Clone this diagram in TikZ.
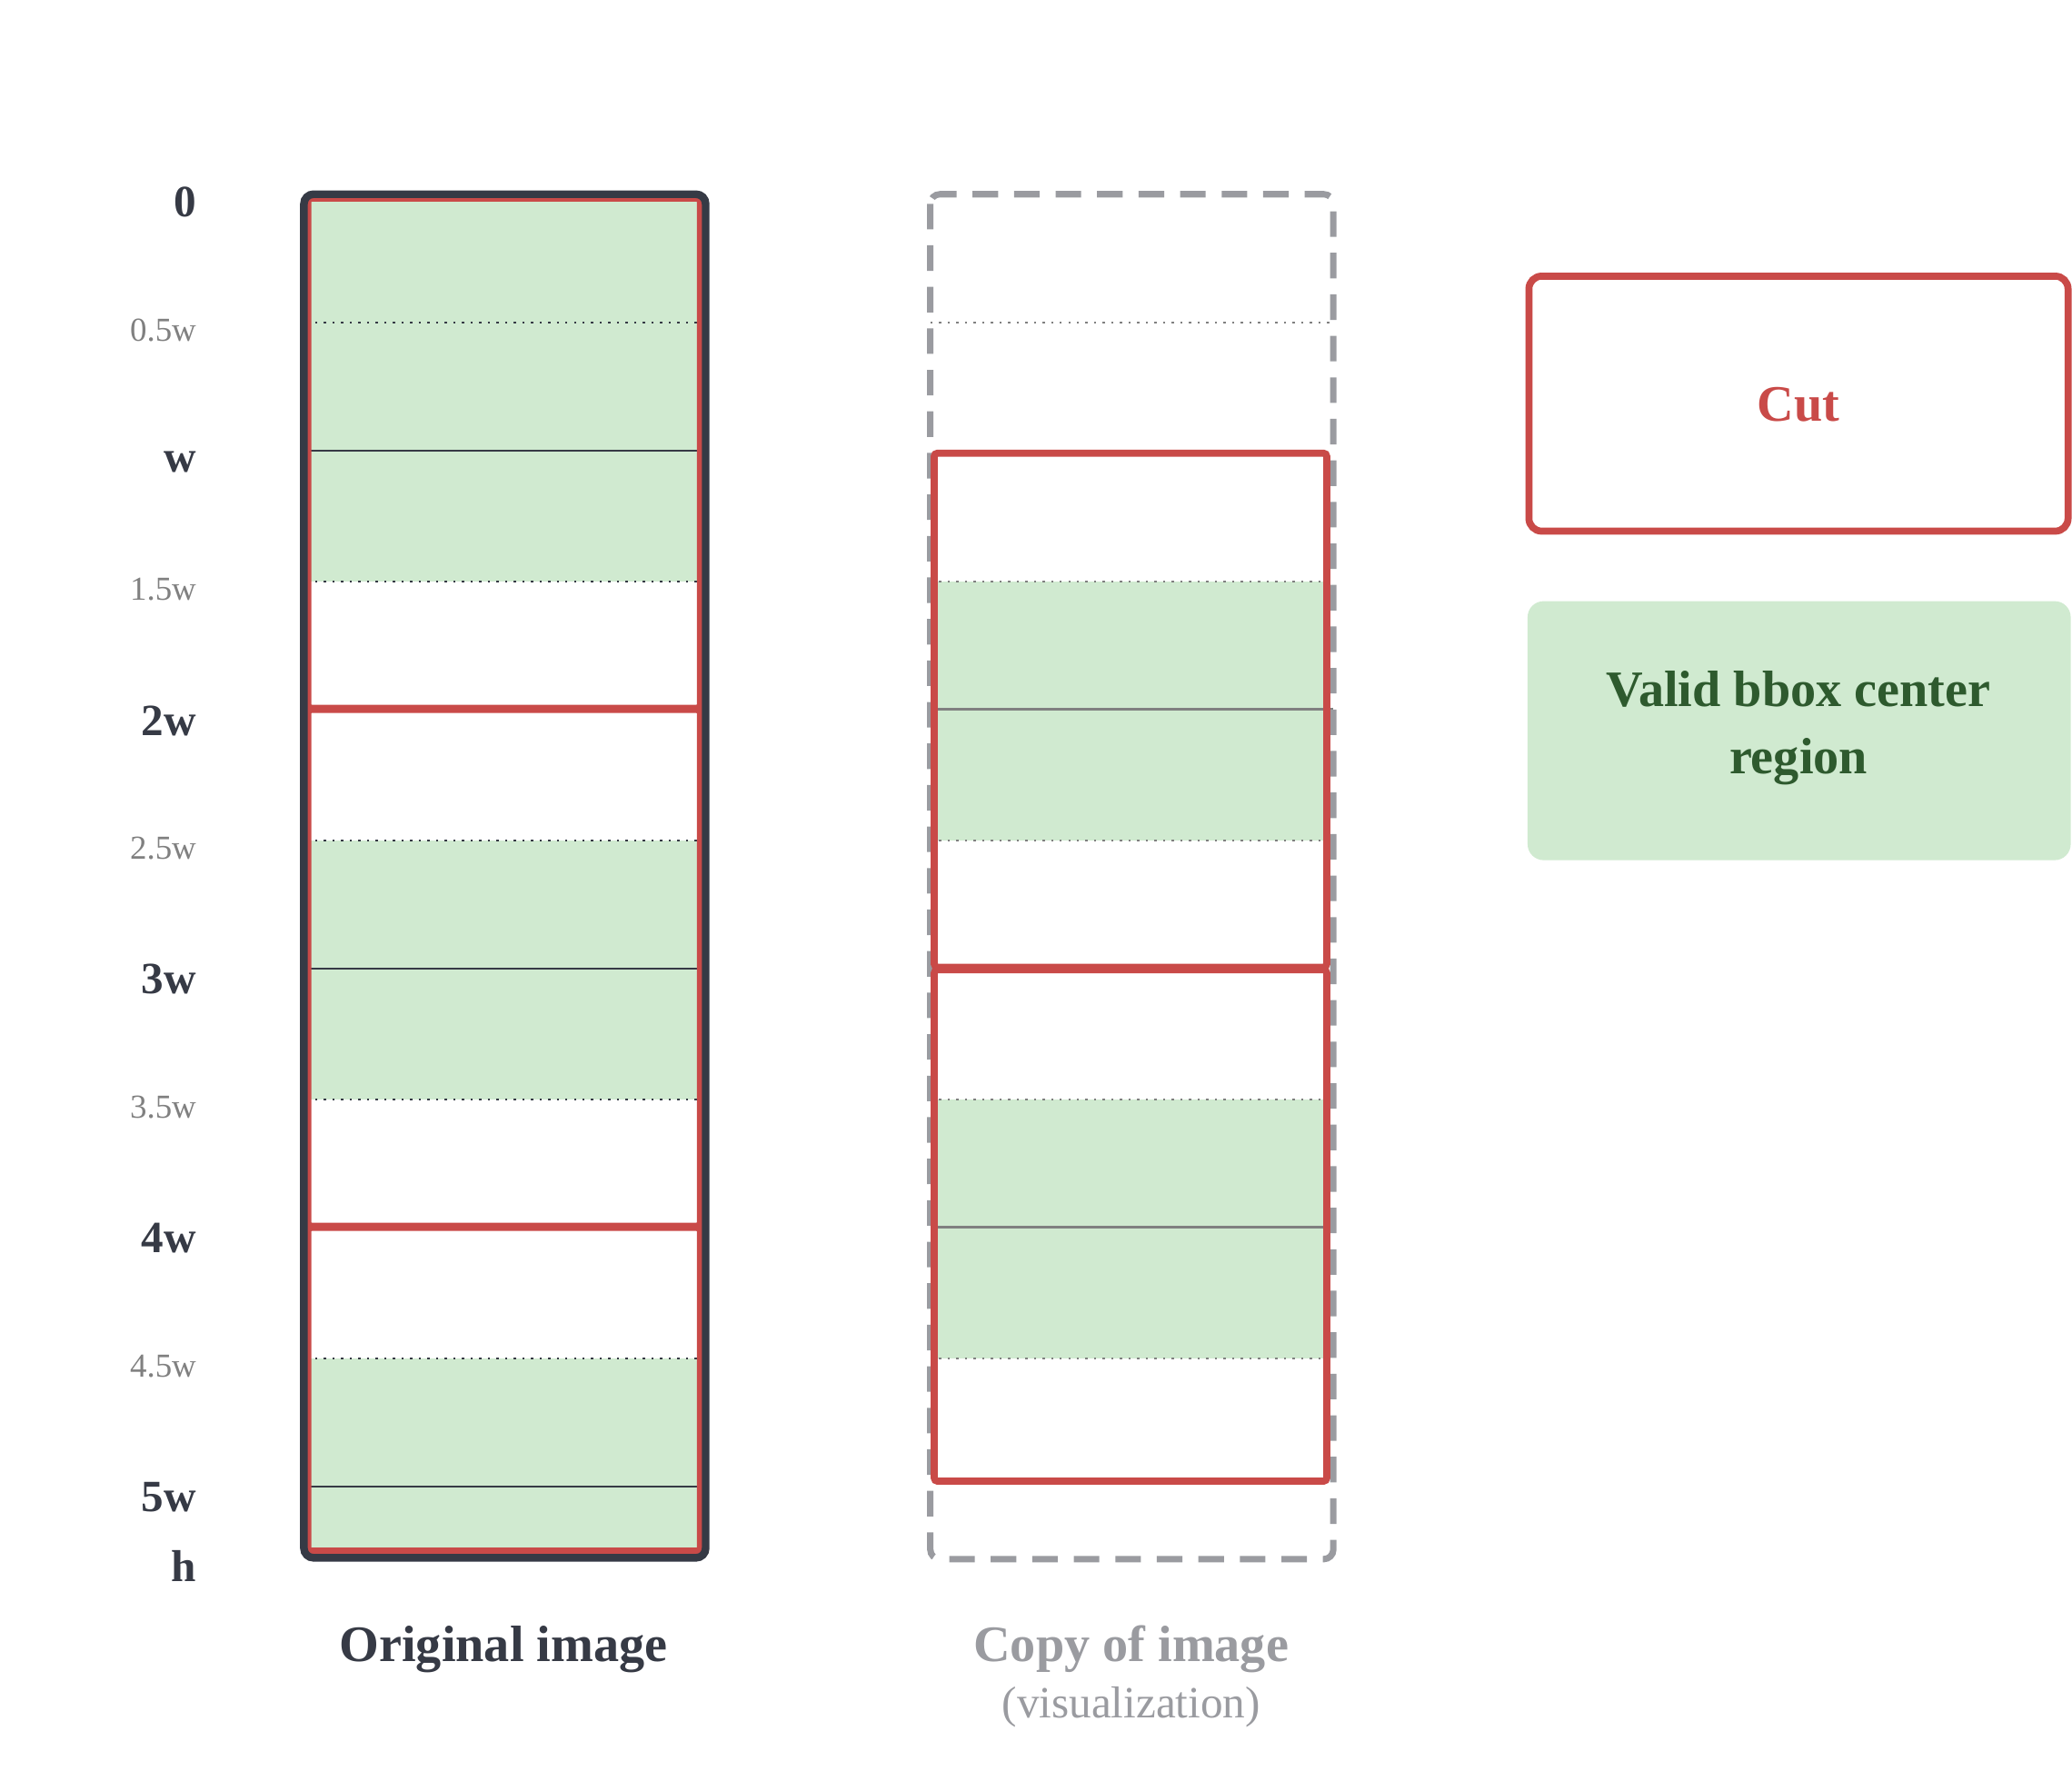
\documentclass[tikz,border=0pt]{standalone}
\usepackage{fontspec}
\setmainfont{Liberation Serif}
\definecolor{cutred}{HTML}{C94A48}
\definecolor{validgreen}{HTML}{D0EAD0}
\definecolor{darkink}{HTML}{363A45}
\definecolor{softgray}{HTML}{9A9BA0}
\definecolor{darkgreen}{HTML}{2E5A2E}
\tikzset{
  full/.style={font=\fontsize{14}{16}\selectfont\bfseries,text=darkink,anchor=east},
  half/.style={font=\fontsize{10.5}{12}\selectfont,text=gray,anchor=east},
  cut/.style={draw=cutred,line width=2.2pt,rounded corners=1pt},
  thin/.style={darkink,line width=0.6pt},
  dots/.style={darkink,dotted,line width=0.7pt},
  title/.style={font=\fontsize{16}{19}\selectfont\bfseries}
}
\begin{document}
\begin{tikzpicture}[x=0.01454cm,y=-0.01454cm]
\useasboundingbox (0,0) rectangle (1568,1340);
%axis labels
\node[full] (l0) at (157,153) {0};
\node[half] (l05) at (157,250) {0.5w};
\node[full] (l1) at (157,350) {w};
\node[half] (l15) at (157,446) {1.5w};
\node[full] (l2) at (157,546) {2w};
\node[half] (l25) at (157,642) {2.5w};
\node[full] (l3) at (157,741) {3w};
\node[half] (l35) at (157,838) {3.5w};
\node[full] (l4) at (157,937) {4w};
\node[half] (l45) at (157,1034) {4.5w};
\node[full] (l5) at (157,1133) {5w};
\node[full] (lh) at (157,1185) {h};

%original image
\fill[validgreen] (232,150) rectangle (532,440);
\fill[validgreen] (232,636) rectangle (532,832);
\fill[validgreen] (232,1028) rectangle (532,1176);
\foreach \y in {244,440,636,832,1028} \draw[dots] (232,\y) -- (532,\y);
\foreach \y in {341,733,1125} \draw[thin] (232,\y) -- (532,\y);
\draw[cut] (233,150) rectangle (530,536);
\draw[cut] (233,537) rectangle (530,928);
\draw[cut] (233,929) rectangle (530,1174);
\draw[darkink,line width=2.4pt,rounded corners=3pt] (230,147) rectangle (534,1179);
\node[title,text=darkink] (orig) at (381,1248) {Original image};

%copy of image
\fill[validgreen] (707,440) rectangle (1004,636);
\fill[validgreen] (707,832) rectangle (1004,1028);
\foreach \y in {244,440,636,832,1028} \draw[gray,dotted,line width=0.7pt] (704,\y) -- (1009,\y);
\foreach \y in {537,929} \draw[gray,line width=0.8pt] (704,\y) -- (1009,\y);
\draw[softgray,dashed,dash pattern=on 8pt off 5pt,line width=2pt,rounded corners=3pt] (704,147) rectangle (1009,1180);
\draw[cut] (707,343) rectangle (1004,732);
\draw[cut] (707,734) rectangle (1004,1121);
\node[title,text=softgray] (copy) at (856,1248) {Copy of image};
\node[font=\fontsize{14}{16}\selectfont,text=softgray] (vis) at (856,1292) {(visualization)};

%legend
\draw[cut,rounded corners=4pt] (1157,209) rectangle (1565,402);
\node[title,text=cutred] (cutl) at (1361,306) {Cut};
\fill[validgreen,rounded corners=5pt] (1156,455) rectangle (1567,651);
\node[title,text=darkgreen,align=center] (validl) at (1361,551) {Valid bbox center\\[2pt]region};
\end{tikzpicture}
\end{document}
